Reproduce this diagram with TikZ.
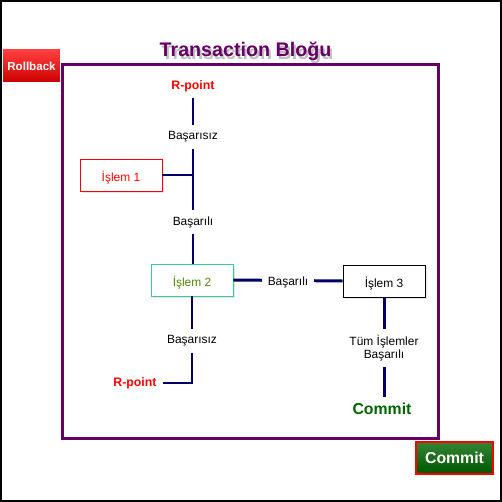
\documentclass[tikz,border=0pt]{standalone}
\usepackage{fontspec}
\setmainfont{Liberation Sans}
\usetikzlibrary{shadows}
\definecolor{blokmor}{HTML}{660066}
\definecolor{hat}{HTML}{000066}
\definecolor{koyuyesil}{HTML}{006600}
\definecolor{nane}{HTML}{33CC99}
\definecolor{zeytin}{HTML}{4F8A00}
\tikzset{
  hatcizgi/.style={draw=hat, line width=1.7pt},
  etiket/.style={font=\fontsize{6.8}{7.4}\selectfont, fill=white},
  rnokta/.style={text=red, font=\bfseries\fontsize{7}{8}\selectfont},
  islemkutu/.style={draw, fill=white, line width=0.5pt, minimum width=1.64cm,
    minimum height=0.64cm, font=\fontsize{6.8}{8}\selectfont,
    text height=7.6pt, text depth=0pt,
    drop shadow={shadow xshift=1.3pt, shadow yshift=-1.3pt, opacity=0.2}},
  dugme/.style={text=white, font=\bfseries\fontsize{6.6}{8}\selectfont,
    minimum height=0.64cm, inner sep=0pt}
}
\begin{document}
\begin{tikzpicture}[x=0.02cm,y=-0.02cm]
  \useasboundingbox (0,0) rectangle (502,502);
  \draw[line width=1.2pt] (0.6,0.6) rectangle (501,501);
  % blok cercevesi
  \draw[blokmor, line width=1.7pt] (62.5,64.5) rectangle (438,438.5);
  \node[anchor=base, text=black, opacity=0.25, font=\bfseries\fontsize{11.2}{12}\selectfont]
    (baslikgolge) at (247.5,59.5) {Transaction Bloğu};
  \node[anchor=base, text=blokmor, font=\bfseries\fontsize{11.2}{12}\selectfont]
    (baslik) at (245.5,57) {Transaction Bloğu};
  % dugmeler
  \node[dugme, minimum width=1.14cm, top color=red!75!white, bottom color=red!80!black]
    (geri) at (31.5,66) {Rollback};
  \node[dugme, minimum width=1.54cm, draw=red, line width=0.6pt,
    top color=koyuyesil!80!white, bottom color=koyuyesil!85!black,
    font=\bfseries\fontsize{9}{10}\selectfont] (onay) at (454.5,458) {Commit};
  % akis
  \node[rnokta] (rp1) at (193,86) {R-point};
  \node[etiket] (bsz1) at (193,137) {Başarısız};
  \node[etiket] (bli1) at (193,222) {Başarılı};
  \node[islemkutu, draw=red, text=red] (is1) at (121,175) {İşlem 1};
  \node[islemkutu, draw=nane, text=zeytin] (is2) at (192,280) {İşlem 2};
  \node[islemkutu, draw=black] (is3) at (384,281) {İşlem 3};
  \node[etiket] (bsz2) at (192,341) {Başarısız};
  \node[rnokta] (rp2) at (135,383) {R-point};
  \node[etiket, align=center] (tum) at (384,348) {Tüm İşlemler\\Başarılı};
  \node[text=koyuyesil, font=\bfseries\fontsize{9}{10}\selectfont] (bitir) at (382,409) {Commit};
  \draw[hatcizgi] (rp1) -- (bsz1);
  \draw[hatcizgi] (bsz1) -- (bli1);
  \draw[hatcizgi] (is1.east) -- (is1.east -| bsz1);
  \draw[hatcizgi] (bli1) -- (bli1 |- is2.north);
  \draw[hatcizgi] (is2.east) -- node[etiket, yshift=-1pt] (bli2) {Başarılı} (is3.west);
  \draw[hatcizgi] (is2) -- (bsz2);
  \draw[hatcizgi] (bsz2) |- (rp2);
  \draw[hatcizgi] (is3) -- (tum);
  \draw[hatcizgi] (tum) -- (tum |- bitir.north);
\end{tikzpicture}
\end{document}
